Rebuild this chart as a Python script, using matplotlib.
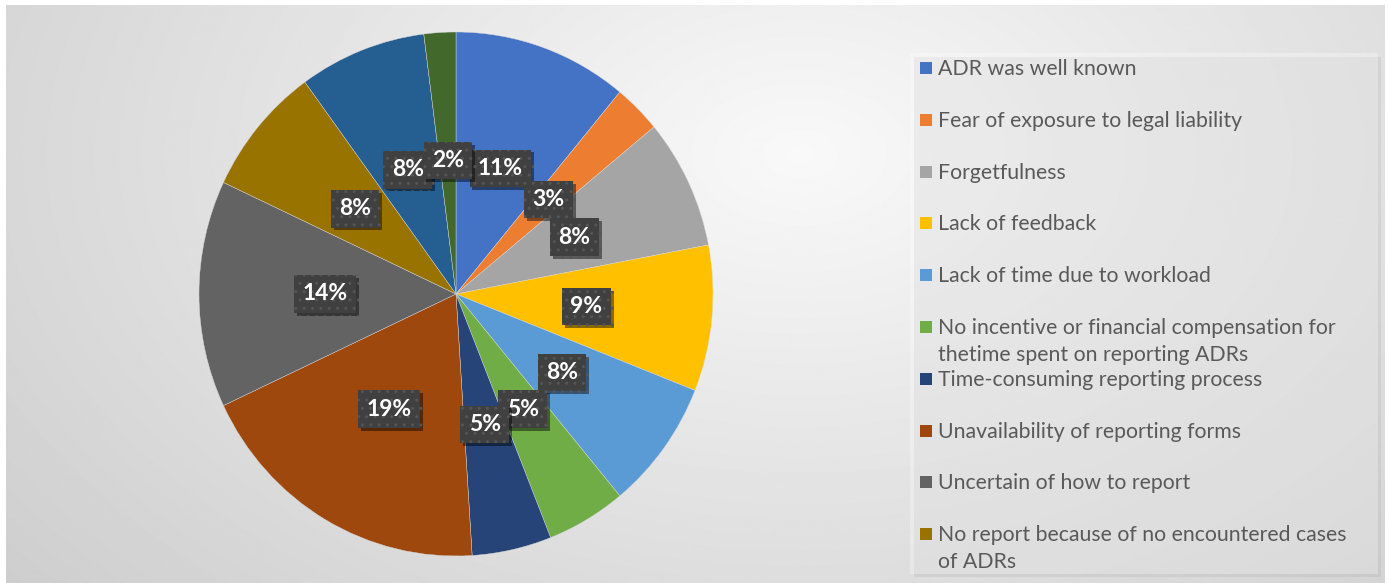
import numpy as np
import matplotlib.pyplot as plt
import matplotlib.patheffects as pe
from matplotlib.patches import Rectangle

plt.rcParams['font.family'] = ['Lato', 'DejaVu Sans']

# reasons for not reporting ADRs (share of respondents, %)
labels = [
    "ADR was well known",
    "Fear of exposure to legal liability",
    "Forgetfulness",
    "Lack of feedback",
    "Lack of time due to workload",
    "No incentive or financial compensation for\nthetime spent on reporting ADRs",
    "Time-consuming reporting process",
    "Unavailability of reporting forms",
    "Uncertain of how to report",
    "No report because of no encountered cases\nof ADRs",
    "Other",
    "Other (2)",
]
shares = [11, 3, 8, 9, 8, 5, 5, 19, 14, 8, 8, 2]
colors = ["#4472C4", "#ED7D31", "#A5A5A5", "#FFC000", "#5B9BD5", "#70AD47",
          "#264478", "#9E480E", "#636363", "#997300", "#255E91", "#43682B"]
n_legend = 10  # the legend only lists the first ten reasons

W, H = 1389, 583
fig = plt.figure(figsize=(W / 100, H / 100), dpi=100, facecolor="white")

# soft grey radial backdrop, pixel coordinates with y pointing down
bg = fig.add_axes([0, 0, 1, 1])
bg.axis("off")
yy, xx = np.mgrid[0:H, 0:W]
r = np.hypot((xx - 800) / 800, (yy - 150) / 520)
shade = 0.975 - 0.13 * np.clip(r, 0, 1.3)
bg.imshow(shade, cmap="gray", vmin=0, vmax=1, extent=(6, W - 4, H, 5),
          aspect="auto", interpolation="bilinear")
bg.set_xlim(0, W)
bg.set_ylim(H, 0)

# legend panel
bg.add_patch(Rectangle((914, 57), 467, 520, fc="#9a9a9a", ec="none", alpha=0.18))
bg.add_patch(Rectangle((910, 53), 468, 521, fc="white", ec="none", alpha=0.3))

for i in range(n_legend):
    yc = 68 + 51.8 * i
    bg.add_patch(Rectangle((920, yc - 6), 12, 12, fc=colors[i], ec="none"))
    for k, line in enumerate(labels[i].split("\n")):
        bg.text(938, yc + 7 + 27 * k, line, fontsize=15.3, color="#595959",
                va="baseline", ha="left")

# pie
ax = fig.add_axes([199 / W, (H - 294 - 262) / H, 514 / W, 524 / H])
wedges, _, autotexts = ax.pie(
    shares, colors=colors, startangle=90, counterclock=False,
    autopct=lambda p: f"{p:.0f}%", pctdistance=0.51,
    wedgeprops=dict(edgecolor="#d8d8d8", linewidth=0.3),
)
ax.set_aspect("auto")
ax.set_xlim(-1, 1)
ax.set_ylim(-1, 1)

for t in autotexts:
    t.set_color("white")
    t.set_fontweight("bold")
    t.set_fontsize(16.5)
    t.set_bbox(dict(boxstyle="square,pad=0.36", fc="#404040", ec="#555555",
                    lw=0, hatch=".."))
    t.get_bbox_patch().set_path_effects([
        pe.SimplePatchShadow(offset=(2, -2), shadow_rgbFace="black", alpha=0.45),
        pe.Normal(),
    ])

fig.savefig("out.png", dpi=100, facecolor=fig.get_facecolor())
